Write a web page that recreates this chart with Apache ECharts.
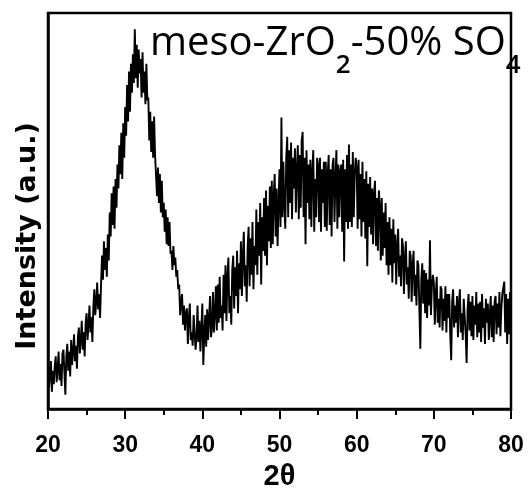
<!DOCTYPE html>
<html>
<head>
<meta charset="utf-8">
<script src="https://cdn.jsdelivr.net/npm/echarts@6/dist/echarts.min.js"></script>
<style>
html,body{margin:0;padding:0;background:#fff;}
#chart{width:531px;height:496px;}
</style>
</head>
<body>
<div id="chart"></div>
<script>
// XRD scan: start angle and step (degrees 2θ)
const scanStart = 20;
const scanStep = 0.125;
// Intensity (a.u.), 8 readings per degree, 20.000 … 80.000
const intensity = [
  48, 22, 35, 50, 18, 40, 26, 45,          // 20
  55, 28, 42, 60, 30, 47, 24, 58,          // 21
  62, 38, 15, 55, 68, 40, 60, 34,          // 22
  72, 46, 60, 78, 50, 66, 42, 75,          // 23
  85, 58, 72, 92, 62, 80, 55, 90,          // 24
  100, 72, 88, 108, 80, 96, 70, 106,       // 25
  125, 98, 112, 132, 104, 120, 95, 130,    // 26
  160, 135, 175, 145, 168, 138, 182, 155,  // 27
  205, 180, 225, 192, 232, 188, 240, 210,  // 28
  255, 230, 275, 245, 288, 240, 298, 262,  // 29
  315, 285, 338, 300, 352, 310, 360, 330,  // 30
  370, 340, 396, 345, 380, 335, 375, 350,  // 31
  365, 325, 372, 330, 352, 318, 360, 322,  // 32
  325, 280, 310, 268, 300, 262, 305, 265,  // 33
  265, 222, 252, 215, 245, 205, 238, 200,  // 34
  215, 185, 208, 172, 200, 170, 195, 162,  // 35
  165, 145, 170, 150, 158, 138, 145, 125,  // 36
  130, 98, 112, 120, 88, 108, 82, 100,     // 37
  105, 68, 95, 110, 72, 80, 66, 98,        // 38
  100, 62, 75, 108, 70, 92, 60, 85,        // 39
  110, 46, 78, 98, 65, 104, 72, 95,        // 40
  118, 75, 85, 122, 80, 100, 128, 82,      // 41
  130, 90, 138, 95, 108, 82, 140, 100,     // 42
  150, 92, 138, 158, 100, 118, 88, 145,    // 43
  160, 105, 148, 118, 165, 100, 152, 125,  // 44
  175, 118, 160, 185, 128, 150, 112, 170,  // 45
  190, 128, 178, 140, 195, 125, 170, 150,  // 46
  208, 140, 195, 160, 215, 130, 200, 165,  // 47
  220, 160, 228, 150, 212, 175, 232, 168,  // 48
  238, 172, 222, 245, 180, 230, 170, 215,  // 49
  250, 190, 304, 200, 258, 212, 188, 262,  // 50
  284, 200, 270, 215, 278, 198, 262, 230,  // 51
  272, 205, 250, 275, 198, 265, 210, 280,  // 52
  289, 200, 262, 172, 270, 215, 255, 198,  // 53
  260, 190, 248, 270, 185, 240, 200, 262,  // 54
  255, 195, 262, 185, 250, 215, 258, 190,  // 55
  258, 186, 245, 265, 192, 250, 180, 255,  // 56
  262, 195, 240, 270, 188, 255, 200, 248,  // 57
  255, 185, 260, 154, 250, 195, 265, 188,  // 58
  276, 195, 255, 190, 268, 200, 245, 262,  // 59
  252, 188, 260, 198, 245, 180, 258, 195,  // 60
  240, 178, 248, 149, 235, 190, 242, 182,  // 61
  230, 172, 225, 238, 170, 220, 165, 228,  // 62
  212, 155, 220, 160, 205, 168, 215, 150,  // 63
  195, 140, 200, 150, 188, 132, 198, 152,  // 64
  182, 130, 170, 188, 138, 160, 128, 178,  // 65
  170, 120, 158, 175, 130, 148, 115, 165,  // 66
  160, 112, 150, 165, 118, 140, 108, 155,  // 67
  150, 105, 63, 135, 152, 110, 145, 100,   // 68
  142, 95, 135, 108, 176, 98, 128, 140,    // 69
  132, 88, 120, 138, 90, 115, 85, 128,     // 70
  125, 82, 115, 92, 128, 80, 120, 95,      // 71
  120, 78, 51, 112, 125, 85, 108, 90,      // 72
  118, 75, 110, 125, 80, 100, 72, 115,     // 73
  115, 78, 48, 105, 120, 82, 112, 76,      // 74
  118, 72, 108, 88, 122, 75, 110, 80,      // 75
  112, 70, 120, 85, 105, 68, 115, 90,      // 76
  110, 72, 98, 118, 75, 108, 70, 112,      // 77
  118, 78, 110, 85, 122, 76, 105, 120,     // 78
  118, 133, 80, 120, 68, 115, 78, 122,     // 79
  95                                       // 80
];
const xTicks = [20, 30, 40, 50, 60, 70, 80];
const titleMain1 = 'meso-ZrO';
const titleSub1 = '2';
const titleMain2 = '-50% SO';
const titleSub2 = '4';
const yName = 'Intensity (a.u.)';
const xName = '2θ';

const seriesData = intensity.map((v, i) => [scanStart + i * scanStep, v]);

const chart = echarts.init(document.getElementById('chart'), null, {renderer: 'canvas'});
const labelFont = '"Liberation Sans", Arial, sans-serif';
chart.setOption({
  animation: false,
  backgroundColor: '#fff',
  grid: {left: 48, right: 20, top: 13, bottom: 70, show: true, borderColor: '#000', borderWidth: 2.5, containLabel: false},
  xAxis: {
    type: 'value', min: xTicks[0], max: xTicks[xTicks.length - 1], interval: 10,
    axisLine: {show: true, lineStyle: {color: '#000', width: 2.5}},
    axisTick: {show: true, inside: false, length: 10, lineStyle: {color: '#000', width: 2}},
    minorTick: {show: true, splitNumber: 2, length: 6, lineStyle: {color: '#000', width: 2}},
    splitLine: {show: false},
    axisLabel: {color: '#000', fontFamily: labelFont, fontWeight: 'bold', fontSize: 23, margin: 25},
    name: xName, nameLocation: 'middle', nameGap: 50,
    nameTextStyle: {color: '#000', fontFamily: labelFont, fontWeight: 'bold', fontSize: 29}
  },
  yAxis: {
    type: 'value', min: 0, max: 413,
    axisLine: {show: true, lineStyle: {color: '#000', width: 2.5}},
    axisTick: {show: false}, axisLabel: {show: false}, splitLine: {show: false}
  },
  series: [{
    type: 'line', data: seriesData, showSymbol: false, symbol: 'none',
    lineStyle: {color: '#000', width: 1.9}, z: 3
  }],
  graphic: [
    {
      type: 'text', x: 150, y: 9, z: 10,
      style: {
        text: '{m|' + titleMain1 + '}{s|' + titleSub1 + '}{m|' + titleMain2 + '}{s|' + titleSub2 + '}',
        verticalAlign: 'top', align: 'left',
        rich: {
          m: {fontFamily: '"Open Sans", sans-serif', fontSize: 40, lineHeight: 70, fill: '#000', color: '#000'},
          s: {fontFamily: '"Open Sans", sans-serif', fontSize: 26, fontWeight: 600, lineHeight: 21, verticalAlign: 'bottom', fill: '#000', color: '#000'}
        }
      }
    },
    {
      type: 'text', x: 28, y: 236, rotation: Math.PI / 2, z: 10,
      style: {
        text: yName, fill: '#000', align: 'center', verticalAlign: 'middle',
        font: 'bold 27px "DejaVu Sans", sans-serif'
      }
    }
  ]
});
</script>
</body>
</html>
